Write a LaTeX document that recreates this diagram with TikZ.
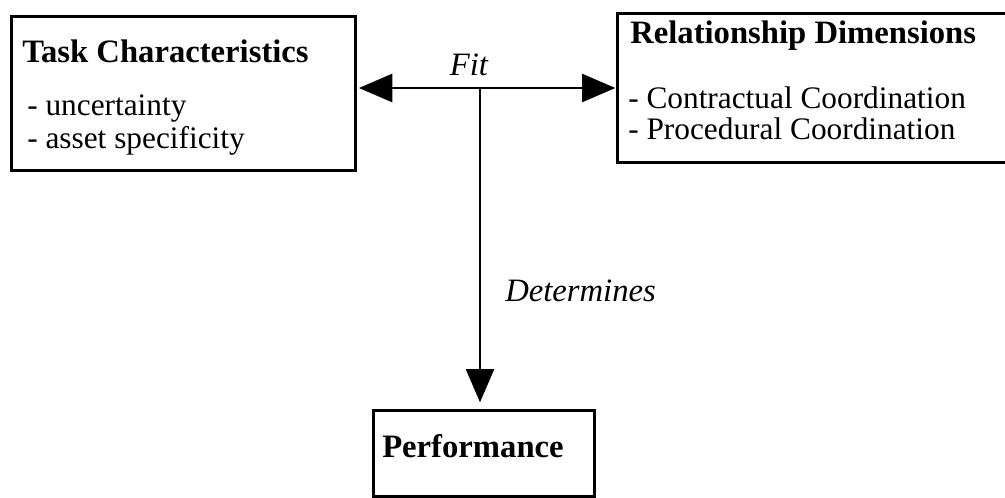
\documentclass[tikz,border=0pt]{standalone}
\usepackage{fontspec}
\setmainfont{Liberation Serif}
\usetikzlibrary{arrows.meta}
\begin{document}
\begin{tikzpicture}[x=0.75pt,y=-0.75pt,
  box/.style={draw, line width=2.2pt, inner sep=0pt, anchor=north west},
  lbl/.style={inner sep=0pt, anchor=base west, font=\fontsize{23.5}{28}\selectfont},
  head/.style={lbl, font=\fontsize{24.5}{29}\selectfont\bfseries},
  note/.style={lbl, font=\fontsize{24.5}{29}\selectfont\itshape},
  >={Triangle[length=25pt,width=21pt]},
  link/.style={line width=2pt},
]
\useasboundingbox (0,0) rectangle (1005,497);

% boxes
\node[box, minimum width=258pt, minimum height=115.5pt] (task) at (10,15) {};
\node[box, minimum width=297pt, minimum height=111.75pt] (rel) at (616,12) {};
\node[box, minimum width=165.75pt, minimum height=64.5pt] (perf) at (372,409) {};

% box contents
\node[head] (taskhead) at (22,62) {Task Characteristics};
\node[lbl] (task1) at (27,115) {- uncertainty};
\node[lbl] (task2) at (27,148) {- asset specificity};

\node[head] (relhead) at (630,43) {Relationship Dimensions};
\node[lbl] (rel1) at (628,108) {- Contractual Coordination};
\node[lbl] (rel2) at (628,139) {- Procedural Coordination};

\node[head] (perfhead) at (382,457) {Performance};

% connectors
\coordinate (j) at (480,88);
\draw[link, <->, shorten <=1.5pt, shorten >=0.5pt] (task.east |- j) -- (rel.west |- j);
\draw[link, ->, shorten >=5pt] (j) -- (j |- perf.north);

% connector labels
\node[note, anchor=base] (fit) at (469,75) {Fit};
\node[note] (det) at (505,301) {Determines};
\end{tikzpicture}
\end{document}
